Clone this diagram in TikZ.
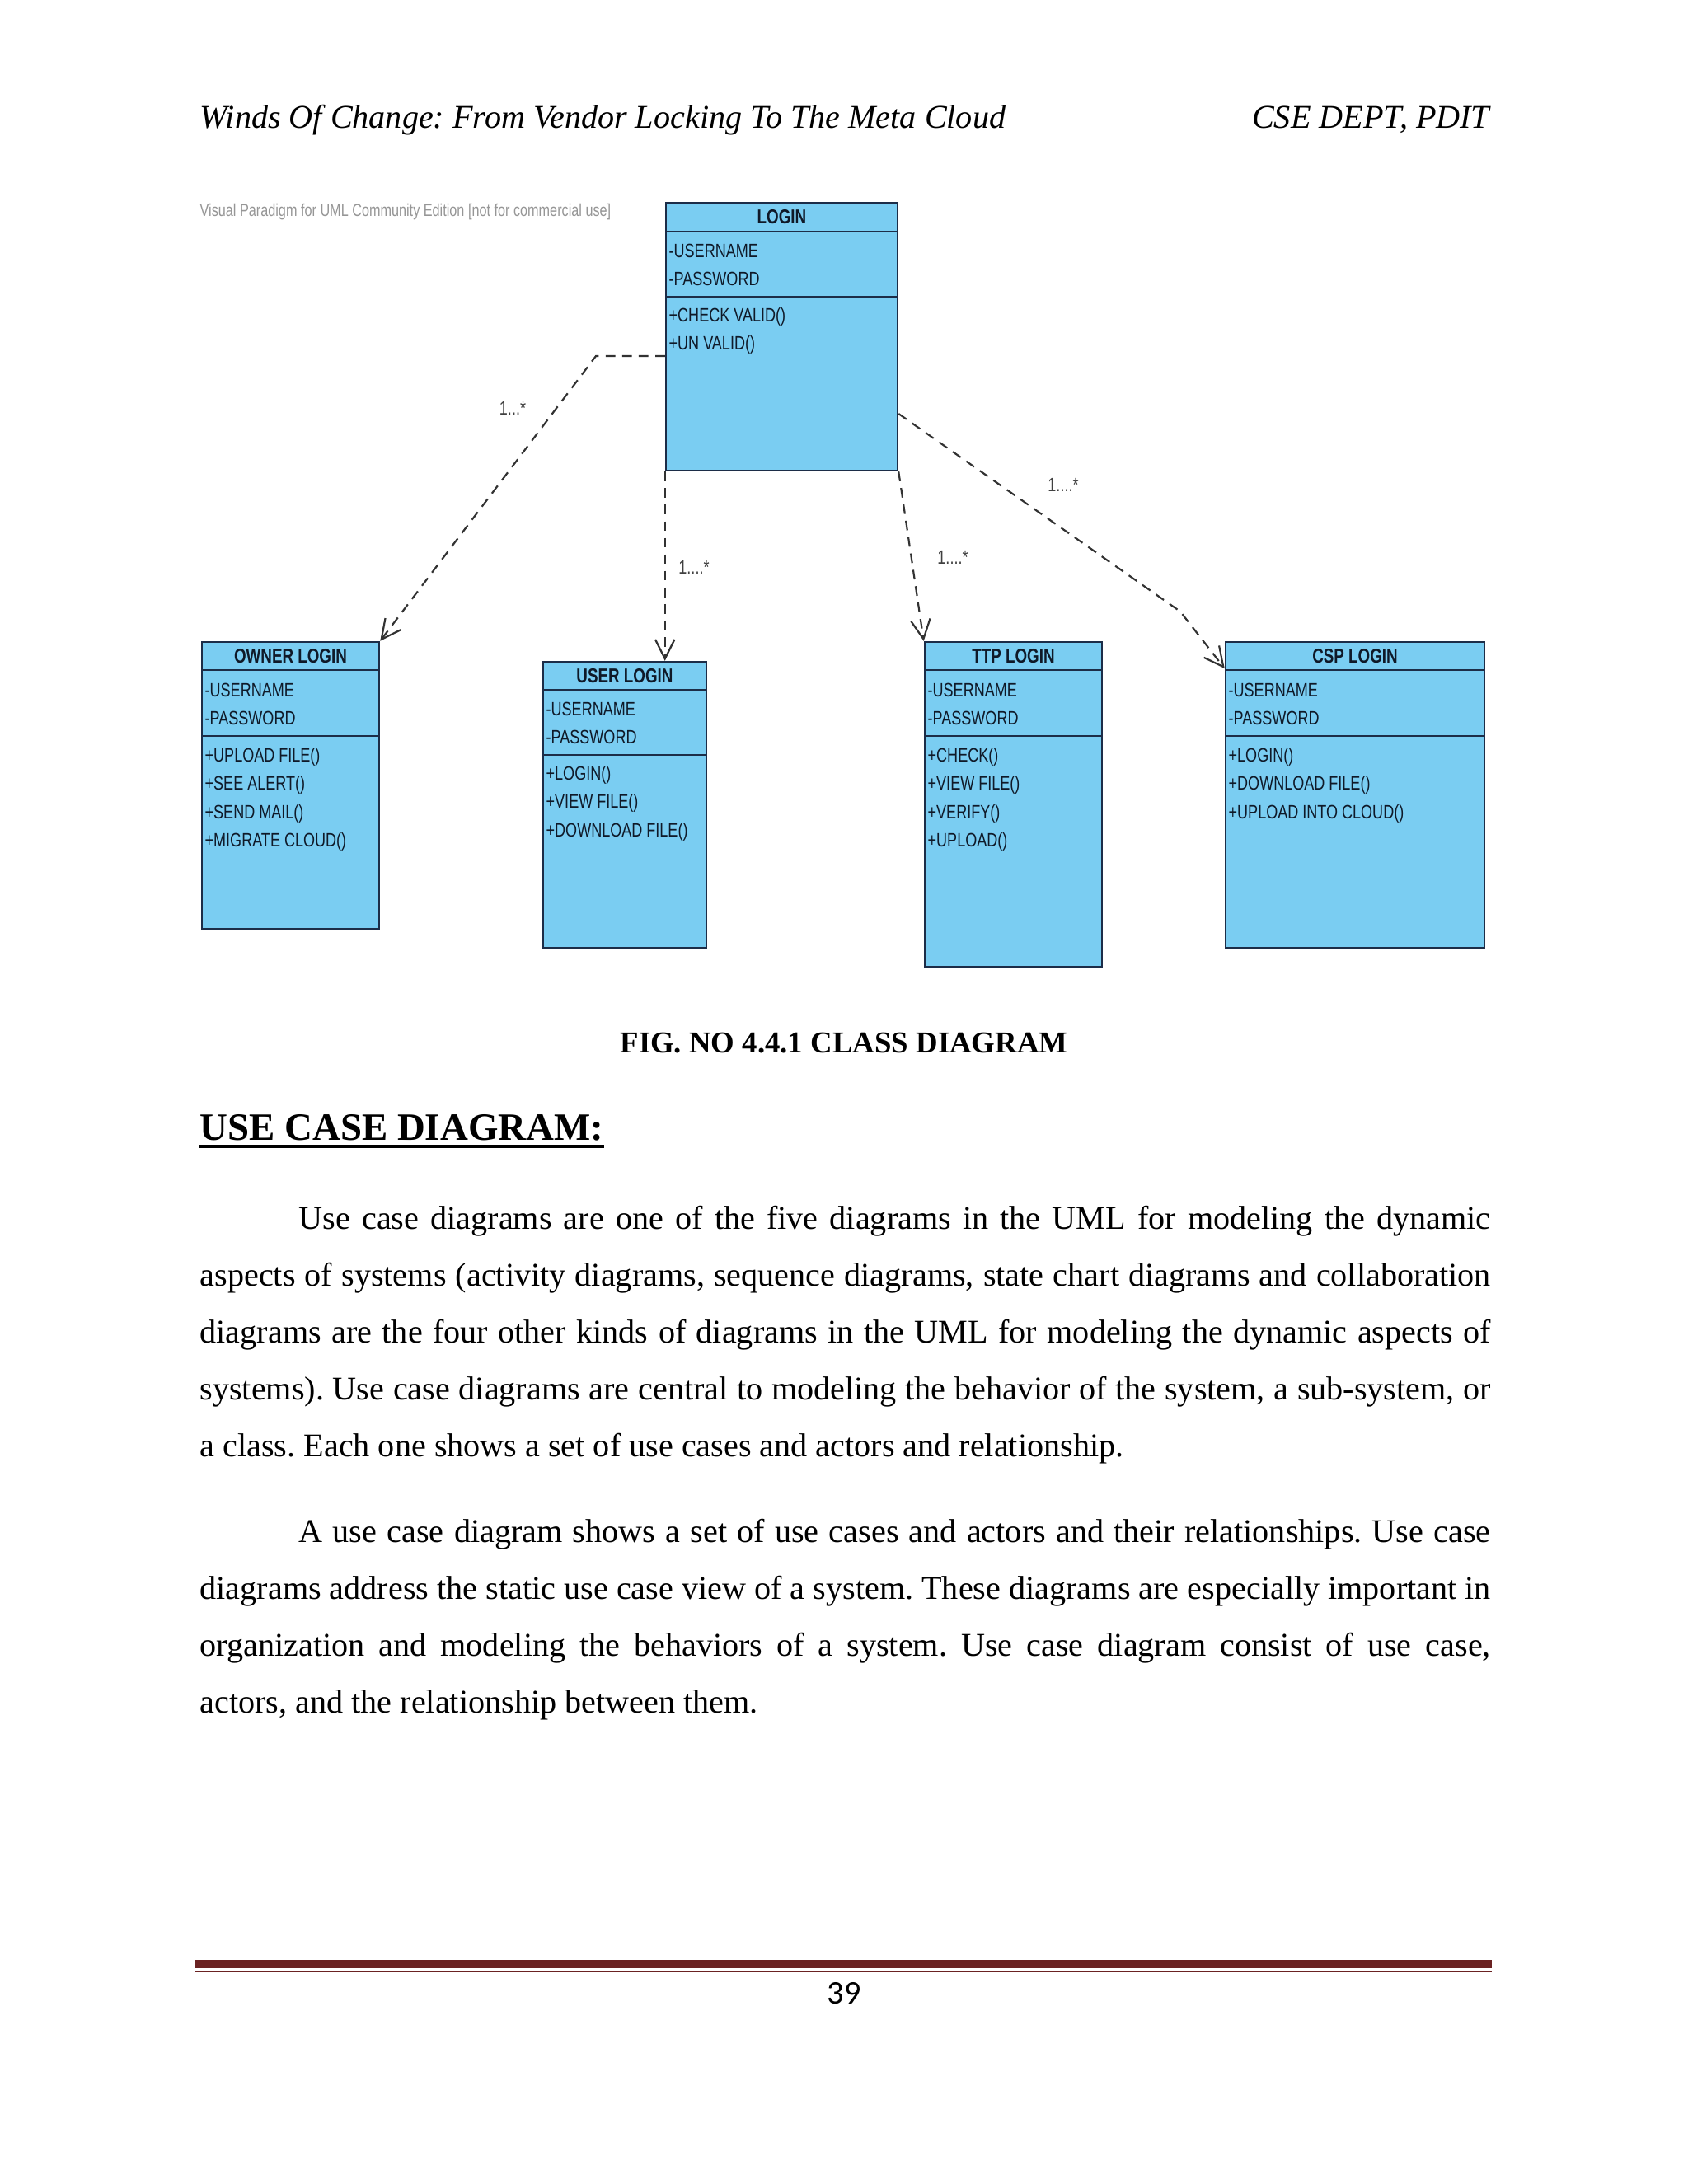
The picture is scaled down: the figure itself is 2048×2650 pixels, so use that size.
\documentclass[tikz,border=0pt]{standalone}
\usepackage{fontspec}
\setmainfont{Liberation Serif}
\newfontfamily\umlfont[FakeStretch=0.77]{Liberation Sans}
\newfontfamily\pnfont{Carlito}
\usetikzlibrary{arrows.meta,fit}
\frenchspacing
\definecolor{clsfill}{RGB}{122,205,242}
\definecolor{clsdraw}{RGB}{28,45,72}
\definecolor{deplc}{RGB}{50,50,50}
\definecolor{footred}{RGB}{107,34,34}
\definecolor{wmgray}{RGB}{150,150,150}
\tikzset{
 cls/.style={draw=clsdraw, fill=clsfill, line width=0.75pt, inner sep=0pt},
 clsline/.style={draw=clsdraw, line width=0.75pt},
 row/.style={anchor=base west, inner sep=0pt, font=\umlfont\fontsize{7}{8}\selectfont, text={rgb,255:red,15;green,25;blue,40}},
 ttl/.style={anchor=base, inner sep=0pt, font=\umlfont\bfseries\fontsize{7.3}{8}\selectfont, text={rgb,255:red,15;green,25;blue,40}},
 dep/.style={draw=deplc, line width=0.65pt, dash pattern=on 3.5pt off 2.5pt, -{Straight Barb[length=7pt,width=7pt]}},
 mult/.style={inner sep=0pt, font=\umlfont\fontsize{7}{8}\selectfont, text=black!75},
 body/.style={anchor=base west, inner sep=0pt, font=\fontsize{12}{14}\selectfont},
}
\newcommand\umlclass[8]{%
 \node[cls, fit={(#2,#3) (#4,#5)}] (#1) {};
 \draw[clsline] (#2,#6) -- (#4,#6);
 \draw[clsline] (#2,#7) -- (#4,#7);
 \node[ttl] (#1-title) at ({(#2+#4)/2},{(#3+#6)/2+8}) {#8};
}
\newcommand\umlrows[4]{%
 \foreach \t [count=\i] in {#4} \node[row] (#1\i) at ({#2+3},{#3+(\i-1)*34.6}) {\t};
}
\begin{document}
\begin{tikzpicture}[x=0.29883pt, y=-0.29883pt]
\useasboundingbox[fill=white] (0,0) rectangle (2048,2650);

% header
\node[anchor=base west, inner sep=0pt, font=\itshape\fontsize{12}{14}\selectfont] (hdl) at (242,155) {Winds Of Change: From Vendor Locking To The Meta Cloud};
\node[anchor=base east, inner sep=0pt, font=\itshape\fontsize{12}{14}\selectfont] (hdr) at (1808,155) {CSE DEPT, PDIT};

% watermark
\node[anchor=base west, inner sep=0pt, font=\umlfont\fontsize{6.3}{7}\selectfont, text=wmgray] (wm) at (242,262) {Visual Paradigm for UML Community Edition [not for commercial use]};

% classes
\umlclass{login}{808}{246}{1089}{571}{281}{360}{LOGIN}
\umlrows{login-a}{808}{312}{-USERNAME,-PASSWORD}
\umlrows{login-o}{808}{390}{+CHECK VALID(),+UN VALID()}

\umlclass{owner}{245}{779}{460}{1127}{813}{893}{OWNER LOGIN}
\umlrows{owner-a}{245}{845}{-USERNAME,-PASSWORD}
\umlrows{owner-o}{245}{924}{+UPLOAD FILE(),+SEE ALERT(),+SEND MAIL(),+MIGRATE CLOUD()}

\umlclass{user}{659}{803}{857}{1150}{837}{916}{USER LOGIN}
\umlrows{user-a}{659}{868}{-USERNAME,-PASSWORD}
\umlrows{user-o}{659}{946}{+LOGIN(),+VIEW FILE(),+DOWNLOAD FILE()}

\umlclass{ttp}{1122}{779}{1337}{1173}{813}{893}{TTP LOGIN}
\umlrows{ttp-a}{1122}{845}{-USERNAME,-PASSWORD}
\umlrows{ttp-o}{1122}{924}{+CHECK(),+VIEW FILE(),+VERIFY(),+UPLOAD()}

\umlclass{csp}{1487}{779}{1801}{1150}{813}{893}{CSP LOGIN}
\umlrows{csp-a}{1487}{845}{-USERNAME,-PASSWORD}
\umlrows{csp-o}{1487}{924}{+LOGIN(),+DOWNLOAD FILE(),+UPLOAD INTO CLOUD()}

% connectors
\coordinate (b1) at (723,432);
\draw[dep] (b1 -| login.west) -- (b1) -- (owner.north east);
\draw[dep] (login.south west) -- (login.south west |- user.north);
\draw[dep] (login.south east) -- (ttp.north west);
\coordinate (c1) at (login.east |- 0,502);
\coordinate (b2) at (1432,742);
\coordinate (c2) at (csp.west |- 0,811);
\draw[dep] (c1) -- (b2) -- (c2);

\node[mult] (m1) at (622,495) {1...*};
\node[mult] (m2) at (842,688) {1....*};
\node[mult] (m3) at (1156,676) {1....*};
\node[mult] (m4) at (1290,588) {1....*};

% caption and heading
\node[anchor=base, inner sep=0pt, font=\bfseries\fontsize{11}{13}\selectfont] (cap) at (1024,1277) {FIG. NO 4.4.1 CLASS DIAGRAM};
\node[anchor=base west, inner sep=0pt, font=\bfseries\fontsize{14}{16}\selectfont] (hd) at (242,1383) {USE CASE DIAGRAM:};
\draw[line width=1.3pt] (hd.west |- 0,1391) -- (hd.east |- 0,1391);

% paragraph 1
\node[body] (p1a) at (362,1491) {\makebox[432.1pt][s]{Use case diagrams are one of the five diagrams in the UML for modeling the dynamic}};
\node[body] (p1b) at (242,1560) {\makebox[468pt][s]{aspects of systems (activity diagrams, sequence diagrams, state chart diagrams and collaboration}};
\node[body] (p1c) at (242,1629) {\makebox[468pt][s]{diagrams are the four other kinds of diagrams in the UML for modeling the dynamic aspects of}};
\node[body] (p1d) at (242,1698) {\makebox[468pt][s]{systems). Use case diagrams are central to modeling the behavior of the system, a sub-system, or}};
\node[body] (p1e) at (242,1767) {a class. Each one shows a set of use cases and actors and relationship.};

% paragraph 2
\node[body] (p2a) at (362,1871) {\makebox[432.1pt][s]{A use case diagram shows a set of use cases and actors and their relationships. Use case}};
\node[body] (p2b) at (242,1940) {\makebox[468pt][s]{diagrams address the static use case view of a system. These diagrams are especially important in}};
\node[body] (p2c) at (242,2009) {\makebox[468pt][s]{organization and modeling the behaviors of a system. Use case diagram consist of use case,}};
\node[body] (p2d) at (242,2078) {actors, and the relationship between them.};

% footer
\draw[footred, line width=3pt] (237,2383) -- (1810,2383);
\draw[footred, line width=0.7pt] (237,2392) -- (1810,2392);
\node[anchor=base, inner sep=0pt, font=\pnfont\fontsize{12}{14}\selectfont] (pn) at (1024,2431) {39};
\end{tikzpicture}
\end{document}
